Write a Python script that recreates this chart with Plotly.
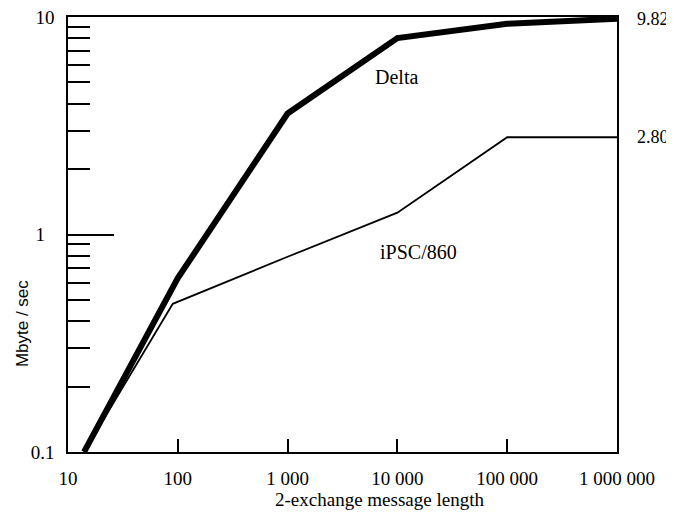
import numpy as np
import plotly.graph_objects as go

# message length (bytes) and transfer rate (Mbyte/sec)
delta_len = [14, 100, 1000, 10000, 100000, 1000000]
delta_rate = [0.1, 0.63, 3.6, 8.0, 9.3, 9.82]

ipsc_len = [14, 90, 1000, 10000, 100000, 1000000]
ipsc_rate = [0.1, 0.48, 0.79, 1.26, 2.80, 2.80]

x_ticks = [10, 100, 1000, 10000, 100000, 1000000]
x_labels = ["10", "100", "1 000", "10 000", "100 000", "1 000 000"]
y_ticks = [0.1, 1, 10]
y_labels = ["0.1", "1\u00a0\u00a0", "10"]
y_minor = [0.2, 0.3, 0.4, 0.5, 0.6, 0.7, 0.8, 0.9, 2, 3, 4, 5, 6, 7, 8, 9]

SERIF = "Liberation Serif"

fig = go.Figure()
fig.add_trace(go.Scatter(x=delta_len, y=delta_rate, mode="lines", name="Delta",
                         line=dict(color="black", width=6)))
fig.add_trace(go.Scatter(x=ipsc_len, y=ipsc_rate, mode="lines", name="iPSC/860",
                         line=dict(color="black", width=1.8)))

# series names inside the plot
fig.add_annotation(x=np.log10(9800), y=np.log10(5.3), text="Delta", showarrow=False,
                   font=dict(family=SERIF, size=20, color="black"))
fig.add_annotation(x=np.log10(15500), y=np.log10(0.835), text="iPSC/860", showarrow=False,
                   font=dict(family=SERIF, size=20, color="black"))

# end values on the right
for rate in (delta_rate[-1], ipsc_rate[-1]):
    fig.add_annotation(xref="paper", x=1, y=np.log10(rate), text=f"{rate:.2f}",
                       showarrow=False, xanchor="left", yanchor="middle", xshift=18,
                       font=dict(family=SERIF, size=18, color="black"))

fig.add_annotation(xref="paper", yref="paper", x=0, y=0.294, xshift=-46,
                   xanchor="center", yanchor="middle",
                   text="Mbyte / sec", textangle=-90, showarrow=False,
                   font=dict(family="Liberation Sans", size=17, color="black"))
fig.add_annotation(xref="paper", yref="paper", x=0.568, y=0, yshift=-47,
                   xanchor="center", yanchor="middle",
                   text="2-exchange message length", showarrow=False,
                   font=dict(family=SERIF, size=19, color="black"))

fig.update_xaxes(type="log", range=[1, 6], tickvals=x_ticks, ticktext=x_labels,
                 ticks="inside", ticklen=13, tickwidth=1.5, tickcolor="black",
                 showline=True, linecolor="black", linewidth=1.5, mirror=True,
                 showgrid=False, zeroline=False, ticklabelstandoff=8, automargin=False,
                 ticklabeloverflow="allow",
                 tickfont=dict(family=SERIF, size=19, color="black"))
fig.update_yaxes(type="log", range=[-1, 1], tickvals=y_ticks, ticktext=y_labels,
                 ticks="inside", ticklen=46, tickwidth=1.5, tickcolor="black",
                 minor=dict(tickmode="array", tickvals=y_minor, ticks="inside",
                            ticklen=22, tickwidth=1.5, tickcolor="black", showgrid=False),
                 showline=True, linecolor="black", linewidth=1.5, mirror=True,
                 showgrid=False, zeroline=False, ticklabelstandoff=8, automargin=False,
                 ticklabeloverflow="allow",
                 tickfont=dict(family=SERIF, size=19, color="black"))

# the page adds an 8 px body margin, so the figure starts at (8, 8)
fig.update_layout(width=666, height=506, showlegend=False,
                  plot_bgcolor="white", paper_bgcolor="white",
                  margin=dict(l=60, r=57, t=9, b=62))

fig.write_html("out.html")
